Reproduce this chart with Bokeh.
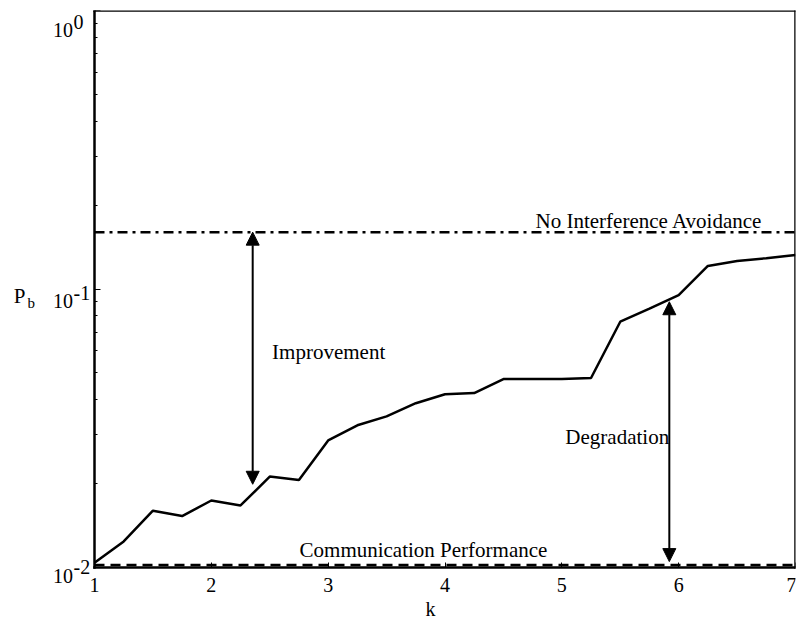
import math
from bokeh.plotting import figure
from bokeh.models import (Label, Arrow, NormalHead, FixedTicker, Range1d,
                          LinearAxis, LogAxis)
from bokeh.embed import file_html
from bokeh.resources import INLINE

# ---- data ----
k_values = [1.0, 1.25, 1.5, 1.75, 2.0, 2.25, 2.5, 2.75, 3.0, 3.25, 3.5, 3.75, 4.0,
            4.25, 4.5, 4.75, 5.0, 5.25, 5.5, 5.75, 6.0, 6.25, 6.5, 6.75, 7.0]
pb_values = [0.0104, 0.0124, 0.0160, 0.0153, 0.0174, 0.0167, 0.0212, 0.0206, 0.0286,
             0.0324, 0.0349, 0.0389, 0.0419, 0.0423, 0.0475, 0.0475, 0.0475, 0.0479,
             0.0763, 0.0850, 0.0951, 0.1210, 0.1260, 0.1290, 0.1325]
no_avoidance_level = 0.160
communication_level = 0.0102
x_ticks = [1, 2, 3, 4, 5, 6, 7]
y_decades = [0.01, 0.1, 1.0]
y_sup = ["-2", "-1", "0"]

# arrows (data coordinates)
improvement_x, improvement_top, improvement_bottom = 2.354, 0.160, 0.0199
degradation_x, degradation_top, degradation_bottom = 5.92, 0.0900, 0.0105

FONT = "Liberation Serif"
W, H = 796, 624
X0, X1 = x_ticks[0], x_ticks[-1]
Y0, Y1 = y_decades[0], y_decades[-1]

# layout: axes box from px 94..795 horizontally, 10..567 vertically
box_left, box_right, box_top, box_bottom = 94, 795, 10, 567
px_per_x = (box_right - box_left) / (X1 - X0)
px_per_dec = (box_bottom - box_top) / (math.log10(Y1) - math.log10(Y0))
x_start = X0 - box_left / px_per_x
y_start = Y0 * 10 ** (-(H - box_bottom) / px_per_dec)

p = figure(width=W, height=H, y_axis_type="log",
           x_range=Range1d(x_start, X1), y_range=Range1d(y_start, Y1),
           output_backend="svg", toolbar_location=None,
           min_border_left=0, min_border_right=W - box_right, min_border_top=box_top,
           min_border_bottom=0)
p.xgrid.visible = False
p.ygrid.visible = False
p.outline_line_color = None
p.background_fill_color = "white"
p.border_fill_color = "white"

# bottom axis
xa = p.xaxis[0]
xa.fixed_location = Y0
xa.bounds = (X0, X1)
xa.ticker = FixedTicker(ticks=x_ticks)
xa.major_tick_in = 5
xa.major_tick_out = 0
xa.minor_tick_line_color = None
xa.axis_line_width = 2.5
xa.axis_line_cap = "square"
xa.major_label_text_font = FONT
xa.major_label_text_font_size = "20px"
xa.major_label_text_color = "black"
xa.major_label_standoff = 10

# left axis
minor = [m * d for d in y_decades[:-1] for m in range(2, 10)]
ya = p.yaxis[0]
ya.fixed_location = X0
ya.bounds = (Y0, Y1)
ya.ticker = FixedTicker(ticks=y_decades, minor_ticks=minor)
ya.major_tick_in = 6
ya.major_tick_out = 0
ya.minor_tick_in = 3
ya.minor_tick_out = 0
ya.axis_line_width = 2.5
ya.axis_line_cap = "square"
ya.major_label_text_alpha = 0
ya.major_label_text_font_size = "8px"

# top and right box edges
top = LinearAxis(fixed_location=Y1, bounds=(X0, X1), ticker=FixedTicker(ticks=[]),
                 axis_line_width=2.5, axis_line_cap="square",
                 major_label_text_alpha=0, major_label_text_font_size="8px",
                 minor_tick_line_color=None, major_tick_line_color=None)
right = LogAxis(fixed_location=X1, bounds=(Y0, Y1), ticker=FixedTicker(ticks=[]),
                axis_line_width=2.5, axis_line_cap="square",
                major_label_text_alpha=0, major_label_text_font_size="8px",
                minor_tick_line_color=None, major_tick_line_color=None)
p.add_layout(top, "above")
p.add_layout(right, "right")

# series
p.line(k_values, pb_values, line_color="black", line_width=2.5)
p.line([X0, X1], [no_avoidance_level, no_avoidance_level], line_color="black",
       line_width=2.5, line_dash="10 5 3 5")
p.line([X0, X1], [communication_level, communication_level], line_color="black",
       line_width=2.5, line_dash="10 6")

def head():
    return NormalHead(size=13, fill_color="black", line_color="black", line_width=1)

p.add_layout(Arrow(start=head(), end=head(), x_start=improvement_x, y_start=improvement_bottom,
                   x_end=improvement_x, y_end=improvement_top, line_width=2, line_color="black"))
p.add_layout(Arrow(start=head(), end=head(), x_start=degradation_x, y_start=degradation_bottom,
                   x_end=degradation_x, y_end=degradation_top, line_width=2, line_color="black"))

def lab(text, x, y, size="21px", align="left", xo=0, yo=0):
    p.add_layout(Label(x=x, y=y, text=text, text_font=FONT, text_font_size=size,
                       text_align=align, text_baseline="middle", text_color="black",
                       x_offset=xo, y_offset=yo))

lab("Improvement", 2.52, 0.0592)
lab("Degradation", 5.03, 0.0293)
lab("No Interference Avoidance", 4.775, no_avoidance_level, yo=11)
lab("Communication Performance", 2.755, communication_level, yo=15)

# y tick labels 10^n
main_off = [-8, -12, -19]
sup_off = [1, -3.5, -11]
for d, s, mo, so in zip(y_decades, y_sup, main_off, sup_off):
    lab("10", X0, d, size="20px", align="right", xo=-21.5, yo=mo)
    lab(s, X0, d, size="20px", align="left", xo=-21, yo=so)

# axis titles
lab("P", X0, 0.1, size="21px", align="right", xo=-69, yo=-6.5)
lab("b", X0, 0.1, size="15px", align="left", xo=-67, yo=-14)
lab("k", 3.876, Y0, size="20px", align="center", yo=-41)

open("out.html", "w").write(file_html(p, INLINE))
